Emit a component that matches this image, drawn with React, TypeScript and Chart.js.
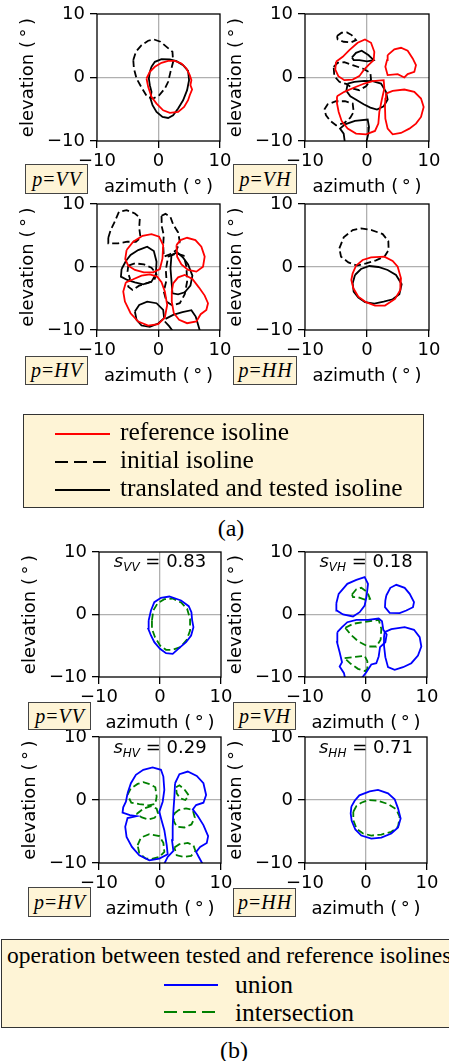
import React, { useEffect, useRef } from 'react';
import { Chart, registerables } from 'chart.js';

Chart.register(...registerables);

type P = [number, number];

// ---------- axes ----------
const axisTicks = [-10, 0, 10];
const axisTickLabels = ['\u221210', '0', '10'];
const xTitle = 'azimuth (\u2009\u00b0\u2009)';
const yTitle = 'elevation (\u2009\u00b0\u2009)';

// ---------- (a) VV ----------
const a1Reference: P[] = [[-1.95,-0.16],[-1.68,-1.47],[-1.14,-3.05],[-0.32,-4.1],[0.76,-5.16],[1.84,-5.58],[3.19,-5.42],[4.16,-4.63],[4.81,-3.58],[5.08,-2.79],[5.46,-1.89],[5.19,-1.21],[5.35,-0.42],[5.08,0.37],[4.54,1.42],[3.73,2.21],[2.65,2.63],[1.57,2.63],[0.49,2.32],[-0.59,1.68],[-1.41,0.89]];
const a1Initial: P[] = [[-4.1,2.74],[-3.68,4.05],[-2.76,5.1],[-1.68,5.79],[-0.76,6.0],[0.32,5.63],[1.41,4.74],[2.27,4.05],[2.38,2.47],[1.95,0.89],[1.57,-0.68],[1.03,-1.74],[0.11,-2.79],[-0.86,-3.32],[-1.84,-3.05],[-2.76,-1.58],[-3.57,-0.16],[-4.0,1.42]];
const a1Tested: P[] = [[-1.14,1.68],[-0.59,2.47],[0.49,2.89],[1.84,2.84],[2.92,2.58],[4.0,1.95],[4.81,1.05],[4.97,-0.42],[4.65,-2.0],[4.0,-3.58],[3.19,-4.89],[2.38,-5.95],[1.57,-6.37],[0.65,-6.21],[-0.32,-5.42],[-0.97,-4.37],[-1.3,-3.32],[-1.14,-2.26],[-1.41,-1.21],[-1.57,-0.16],[-1.41,0.89]];

// ---------- (a) VH ----------
const a2Reference1: P[] = [[-5.0,2.47],[-3.92,3.26],[-2.85,4.32],[-1.51,5.47],[-0.32,6.0],[0.65,5.47],[1.18,4.05],[1.08,2.74],[0.22,1.95],[-0.54,1.16],[-1.24,0.21],[-2.31,-0.32],[-3.66,-0.42],[-4.62,0.21],[-5.11,1.26]];
const a2Reference2: P[] = [[3.33,3.53],[4.41,4.42],[5.48,4.68],[6.56,4.21],[7.37,3.0],[7.9,1.95],[7.63,0.89],[6.56,0.53],[6.02,0.0],[4.95,0.53],[3.33,0.37],[2.96,1.68],[3.23,2.74]];
const a2Reference3: P[] = [[-4.84,-2.95],[-3.66,-2.26],[-2.04,-1.58],[-0.43,-0.95],[0.91,-0.58],[2.69,-0.42],[2.8,-1.74],[2.37,-3.58],[1.99,-5.42],[1.83,-7.26],[1.29,-8.42],[-0.16,-8.95],[-1.77,-8.84],[-3.12,-8.05],[-4.09,-6.84],[-4.57,-5.42],[-4.84,-4.1]];
const a2Reference4: P[] = [[3.06,-2.53],[4.14,-2.11],[6.02,-1.89],[7.63,-2.26],[8.71,-3.32],[9.14,-4.63],[8.71,-6.21],[7.9,-7.26],[6.83,-8.05],[5.48,-8.74],[4.14,-8.95],[3.33,-8.05],[2.96,-6.47],[2.9,-4.63],[2.96,-3.32]];
const a2Initial1: P[] = [[-4.84,6.53],[-4.09,7.05],[-3.23,7.1],[-2.47,6.68],[-1.77,5.89],[-2.58,5.53],[-3.76,5.63],[-4.73,6.0]];
const a2Initial2: P[] = [[-5.38,1.68],[-4.73,2.32],[-3.66,2.42],[-2.31,1.95],[-0.7,1.42],[0.54,0.74],[0.65,-0.32],[-0.16,-1.37],[-1.24,-2.0],[-2.31,-1.74],[-3.23,-1.05],[-4.46,-0.68],[-5.27,0.21]];
const a2Initial3: P[] = [[-6.88,-5.05],[-6.34,-4.21],[-5.0,-3.74],[-3.55,-3.74],[-2.31,-4.1],[-2.15,-5.42],[-2.69,-6.32],[-3.66,-7.16],[-5.0,-7.53],[-5.91,-6.84],[-6.61,-5.95]];
const a2Tested1: P[] = [[-2.42,3.16],[-1.77,3.89],[-0.86,4.21],[0.22,3.53],[1.08,2.74],[0.0,2.53],[-1.24,2.74],[-2.15,2.74]];
const a2Tested2: P[] = [[-3.12,-0.95],[-2.04,-0.68],[-0.43,-0.53],[0.91,-0.58],[2.26,-0.95],[3.06,-2.26],[3.33,-3.47],[2.69,-4.53],[1.61,-5.05],[0.54,-4.74],[-0.54,-4.21],[-1.61,-3.58],[-2.69,-2.95],[-3.33,-2.11]];
const a2Tested3: P[] = [[-3.55,-10.4],[-3.76,-8.84],[-4.35,-8.05],[-3.55,-7.37],[-1.94,-6.84],[0.11,-6.63],[0.32,-7.79],[0.22,-8.84],[-0.16,-10.4]];

// ---------- (a) HV ----------
const a3Reference1: P[] = [[-5.19,2.69],[-4.11,4.01],[-2.59,4.96],[-1.14,5.22],[0.11,4.8],[0.76,3.48],[0.65,1.37],[0.22,-0.32],[-0.86,-0.84],[-2.38,-0.84],[-3.84,-0.47],[-4.92,0.21],[-5.41,1.27]];
const a3Reference2: P[] = [[2.92,3.48],[3.57,4.27],[4.65,4.64],[6.0,4.27],[6.97,3.22],[7.51,1.64],[7.24,0.05],[6.16,-0.74],[4.81,-0.47],[3.73,0.42],[3.03,1.64]];
const a3Reference3: P[] = [[-5.3,-2.43],[-4.11,-1.95],[-2.76,-1.37],[-1.41,-1.16],[-0.22,-1.53],[0.49,-2.43],[1.03,-3.9],[1.41,-6.02],[1.03,-8.02],[-0.05,-9.08],[-1.68,-9.29],[-3.3,-8.65],[-4.54,-7.34],[-5.46,-5.49],[-5.73,-3.9]];
const a3Reference4: P[] = [[2.38,-2.59],[3.19,-1.64],[4.27,-1.27],[5.51,-1.9],[6.59,-3.27],[7.51,-4.54],[8.05,-5.75],[7.78,-6.81],[6.86,-7.49],[6.16,-8.65],[4.65,-8.92],[3.35,-8.39],[2.49,-7.34],[2.16,-5.49],[2.16,-3.9]];
const a3Initial1: P[] = [[-8.16,4.64],[-7.78,5.86],[-7.08,7.28],[-6.43,8.76],[-5.19,9.02],[-3.84,8.5],[-3.03,7.81],[-3.14,6.23],[-2.92,4.64],[-3.68,4.01],[-5.08,4.01],[-6.54,3.75],[-8.16,3.75]];
const a3Initial2: P[] = [[0.49,8.13],[1.14,8.44],[1.95,7.92],[2.38,6.75],[3.19,5.49],[3.46,4.01],[2.92,2.69],[1.84,2.0],[0.86,1.64],[0.76,3.48],[0.86,5.07],[0.54,6.39]];
const a3Initial3: P[] = [[-4.92,0.21],[-3.84,0.58],[-2.38,0.42],[-1.14,-0.11],[-0.32,-1.16],[-0.76,-2.22],[-1.95,-2.59],[-3.14,-2.96],[-4.22,-3.64],[-4.92,-3.11],[-4.65,-1.79],[-5.03,-0.74]];
const a3Initial4: P[] = [[1.57,1.64],[2.92,2.16],[4.11,1.79],[4.54,0.05],[4.65,-2.32],[4.27,-4.33],[3.46,-5.75],[2.27,-6.12],[1.3,-5.49],[0.86,-3.9],[1.3,-2.06],[1.19,-0.47]];
const a3Tested1: P[] = [[-6.0,-0.32],[-5.3,0.95],[-4.54,1.9],[-3.3,2.69],[-1.84,3.22],[-0.76,2.53],[-0.32,0.84],[-0.43,-1.16],[-1.14,-2.32],[-2.49,-2.74],[-3.84,-2.43],[-5.08,-2.06],[-6.11,-1.53]];
const a3Tested2: P[] = [[-3.84,-7.07],[-3.14,-6.02],[-1.84,-5.49],[-0.32,-5.75],[0.76,-6.81],[0.92,-8.13],[-0.05,-8.97],[-1.41,-9.5],[-2.76,-9.29],[-3.57,-8.39]];
const a3Tested3: P[] = [[2.11,1.9],[3.03,2.32],[4.0,1.48],[4.81,0.42],[5.51,-1.37],[5.19,-2.96],[4.27,-4.01],[3.19,-4.33],[2.27,-4.17],[2.11,-2.22],[1.95,-0.21]];
const a3Tested4: P[] = [[1.14,-8.23],[2.38,-7.6],[3.89,-7.18],[5.35,-6.86],[6.05,-7.86],[6.81,-10.4]];
const a3Tested5: P[] = [[1.03,-8.65],[1.73,-9.39],[2.49,-10.4]];

// ---------- (a) HH ----------
const a4Reference: P[] = [[-2.31,-1.0],[-1.77,0.21],[-0.7,1.11],[0.65,1.53],[2.8,1.64],[4.14,0.95],[4.95,0.05],[5.48,-1.79],[5.38,-3.64],[4.52,-5.07],[2.9,-6.12],[1.29,-6.12],[-0.16,-5.59],[-1.4,-4.7],[-2.2,-3.38],[-2.53,-2.06]];
const a4Initial: P[] = [[-4.46,2.96],[-3.76,4.7],[-2.31,5.86],[-0.97,6.12],[0.75,5.86],[2.53,5.22],[3.44,4.12],[3.49,2.69],[2.8,1.64],[1.45,1.06],[-0.16,0.58],[-1.61,0.21],[-3.01,0.74],[-4.19,1.64]];
const a4Tested: P[] = [[-1.94,-1.27],[-0.97,-0.32],[0.38,0.16],[1.83,0.0],[3.33,-0.47],[4.68,-1.27],[5.59,-2.74],[5.22,-4.33],[4.14,-5.12],[2.69,-5.49],[1.18,-5.8],[-0.32,-5.59],[-1.4,-4.85],[-2.15,-3.9],[-2.31,-2.59]];

// ---------- (b) VV ----------
const b1Union: P[] = [[-1.86,-0.96],[-1.48,0.64],[-0.93,1.97],[0.16,2.67],[1.53,2.88],[3.45,2.24],[4.71,1.33],[5.15,0.37],[5.26,-0.85],[5.48,-2.03],[5.1,-3.36],[4.27,-4.43],[3.18,-5.33],[2.08,-6.29],[0.99,-6.19],[0.0,-5.49],[-0.93,-4.43],[-1.48,-3.36],[-1.92,-2.29]];
const b1Intersection: P[] = [[-1.32,-0.96],[-1.1,0.64],[-0.38,1.81],[0.71,2.45],[2.08,2.56],[3.45,1.92],[4.44,0.91],[4.93,-0.69],[4.93,-2.56],[4.38,-4.05],[3.34,-5.23],[2.08,-5.65],[0.99,-5.65],[0.0,-4.96],[-0.82,-3.63],[-1.32,-2.29]];
const b1Score = '0.83';

// ---------- (b) VH ----------
const b2Union1: P[] = [[-4.86,1.81],[-4.48,3.31],[-3.06,4.91],[-1.58,5.55],[-0.22,5.97],[0.33,4.91],[0.11,3.04],[-0.22,1.44],[-1.04,0.37],[-2.13,-0.32],[-3.77,0.0],[-4.81,0.64]];
const b2Union2: P[] = [[3.33,3.04],[3.99,4.27],[4.97,4.75],[6.34,4.27],[7.16,3.31],[7.87,1.97],[7.7,1.17],[6.61,0.64],[5.52,0.21],[3.88,0.27],[3.11,1.17],[3.17,2.24]];
const b2Union3: P[] = [[-4.7,-2.83],[-3.93,-2.03],[-3.06,-1.23],[-1.58,-0.85],[0.33,-0.85],[2.08,-0.64],[2.62,-1.07],[2.84,-2.45],[3.39,-3.2],[3.17,-4.43],[2.3,-5.23],[2.08,-6.72],[1.69,-7.79],[0.87,-8.0],[0.05,-9.23],[-0.87,-10.4],[-3.39,-10.4],[-3.61,-9.39],[-4.32,-8.32],[-3.93,-7.63],[-4.32,-6.03],[-4.75,-4.43]];
const b2Union4: P[] = [[3.06,-2.83],[4.15,-2.35],[6.34,-2.03],[7.87,-2.45],[8.8,-3.63],[9.07,-5.12],[8.52,-6.56],[7.43,-7.79],[6.07,-8.43],[4.7,-8.85],[3.61,-8.43],[3.17,-6.83],[2.95,-4.96],[2.95,-3.63]];
const b2Intersection1: P[] = [[-2.3,3.2],[-1.58,4.05],[-0.77,4.27],[0.22,3.57],[0.66,2.51],[-0.22,2.4],[-1.31,2.77],[-2.13,2.77]];
const b2Intersection2: P[] = [[-3.39,-2.13],[-2.13,-1.49],[-0.22,-1.17],[2.08,-0.85],[2.51,-2.29],[2.4,-4.05],[1.69,-5.12],[0.33,-5.12],[-1.31,-4.27],[-2.51,-3.2]];
const b2Intersection3: P[] = [[-3.5,-6.99],[-2.13,-6.83],[-0.22,-6.61],[0.22,-7.47],[0.22,-8.69],[-0.11,-9.07],[-1.31,-8.69],[-2.51,-7.89]];
const b2Score = '0.18';

// ---------- (b) HV ----------
const b3Union1: P[] = [[-5.32,1.06],[-5.59,-0.27],[-6.03,-1.17],[-6.14,-2.02],[-4.93,-2.39],[-3.84,-2.55],[-5.32,-2.87],[-5.7,-4.26],[-5.48,-5.85],[-4.6,-7.45],[-3.4,-8.78],[-1.75,-9.57],[-0.11,-9.31],[1.26,-8.62],[1.1,-7.18],[0.71,-4.79],[0.22,-3.09],[-0.11,-1.86],[0.44,-0.27],[0.71,1.6],[0.55,3.72],[0.16,4.79],[-1.21,5.16],[-2.74,4.79],[-3.95,3.99],[-4.77,2.66]];
const b3Union2: P[] = [[2.47,2.66],[3.18,4.1],[4.55,4.52],[6.03,3.83],[7.12,2.66],[7.56,0.8],[7.12,-0.43],[5.92,-0.8],[5.37,-1.49],[6.19,-2.55],[7.12,-3.99],[7.89,-5.74],[7.67,-6.81],[6.58,-7.45],[5.92,-8.24],[6.36,-9.04],[7.12,-10.4],[0.55,-10.4],[1.26,-9.04],[2.19,-8.09],[1.97,-6.38],[2.08,-4.26],[2.19,-1.86],[2.36,0.53]];
const b3Intersection1: P[] = [[-5.32,0.8],[-4.77,1.86],[-3.67,2.55],[-2.74,2.82],[-1.64,2.5],[-0.77,2.02],[-0.55,0.53],[-0.77,-0.64],[-1.86,-0.85],[-3.4,-0.64],[-4.71,-0.43]];
const b3Intersection2: P[] = [[-3.84,-2.23],[-2.74,-1.38],[-1.48,-0.96],[-0.55,-1.38],[-0.33,-2.13],[-0.88,-2.82],[-1.86,-3.09],[-2.96,-2.77]];
const b3Intersection3: P[] = [[-3.67,-7.18],[-3.12,-5.96],[-1.75,-5.43],[-0.11,-5.74],[0.55,-6.81],[0.71,-8.24],[-0.11,-9.04],[-1.32,-9.36],[-2.41,-9.26],[-3.4,-8.4]];
const b3Intersection4: P[] = [[2.63,2.02],[3.18,2.34],[4.0,1.7],[4.71,0.74],[4.16,0.0],[3.29,0.27],[2.74,1.06]];
const b3Intersection5: P[] = [[2.36,-2.13],[3.07,-1.6],[4.27,-1.33],[5.37,-1.6],[5.7,-2.77],[5.15,-3.88],[4.0,-4.36],[2.74,-4.26],[2.25,-3.3]];
const b3Intersection6: P[] = [[2.36,-7.55],[3.18,-7.02],[4.55,-6.81],[5.48,-7.18],[5.81,-8.09],[5.1,-8.88],[4.0,-9.04],[2.74,-8.78]];
const b3Score = '0.29';

// ---------- (b) HH ----------
const b4Union: P[] = [[-2.4,-1.06],[-1.86,-0.11],[-1.09,0.74],[0.6,1.38],[1.97,1.6],[3.61,1.06],[4.7,0.11],[5.25,-1.33],[5.68,-2.93],[5.25,-4.36],[4.15,-5.32],[2.51,-5.96],[0.87,-6.12],[-0.77,-5.64],[-1.75,-4.68],[-2.35,-3.3],[-2.51,-2.13]];
const b4Intersection: P[] = [[-2.08,-1.86],[-1.58,-0.96],[-0.77,-0.43],[0.44,0.0],[1.97,-0.11],[3.61,-0.64],[4.97,-1.49],[5.52,-2.66],[5.25,-4.26],[4.15,-5.05],[2.51,-5.48],[0.87,-5.64],[-0.49,-5.32],[-1.53,-4.57],[-2.08,-3.19]];
const b4Score = '0.71';

// ---------- styles ----------
const RED = '#ff0000';
const BLACK = '#000000';
const BLUE = '#0000ff';
const GREEN = '#008000';
const CREAM = '#fef4d6';
const SANS = '"DejaVu Sans", sans-serif';
const SERIF = '"Liberation Serif", "DejaVu Serif", serif';

type Curve = { pts: P[]; color: string; dashed?: boolean; open?: boolean };

const sol = (pts: P[], color: string): Curve => ({ pts, color });
const dsh = (pts: P[], color: string): Curve => ({ pts, color, dashed: true });
const opn = (pts: P[], color: string): Curve => ({ pts, color, open: true });

const framePlugin = {
  id: 'frame',
  afterDatasetsDraw(chart: any) {
    const { ctx, chartArea: a } = chart;
    ctx.save();
    ctx.strokeStyle = '#000';
    ctx.lineWidth = 1.3;
    ctx.strokeRect(a.left, a.top, a.right - a.left, a.bottom - a.top);
    ctx.restore();
  },
};

const YW = 80;
const XH = 60;
const PT = 16;
const PR = 16;

function Panel(props: { left: number; top: number; w: number; h: number; curves: Curve[] }) {
  const { left, top, w, h, curves } = props;
  const ref = useRef<HTMLCanvasElement>(null);
  useEffect(() => {
    const canvas = ref.current;
    if (!canvas) return;
    const datasets = curves.map((c) => {
      const pts = c.open ? c.pts : [...c.pts, c.pts[0]];
      return {
        data: pts.map(([x, y]) => ({ x, y })),
        borderColor: c.color,
        backgroundColor: c.color,
        borderWidth: 1.8,
        borderDash: c.dashed ? [7, 3.5] : [],
        pointRadius: 0,
        fill: false,
        tension: 0,
        clip: 0,
        showLine: true,
      };
    });
    const font = { family: SANS, size: 18, lineHeight: 1.2 };
    const axis = (isX: boolean) => ({
      type: 'linear' as const,
      min: -10,
      max: 10,
      afterBuildTicks: (s: any) => {
        s.ticks = axisTicks.map((v) => ({ value: v }));
      },
      ticks: {
        callback: (_v: any, i: number) => axisTickLabels[i],
        font,
        color: '#000',
        padding: isX ? 3 : 5,
        autoSkip: false,
        maxRotation: 0,
      },
      grid: {
        color: (c: any) => (c.tick && c.tick.value === 0 ? '#b0b0b0' : 'rgba(0,0,0,0)'),
        lineWidth: 1.3,
        tickColor: '#000',
        tickLength: 7,
        tickWidth: 1.3,
        drawTicks: true,
      },
      border: { display: false },
      title: {
        display: true,
        text: isX ? xTitle : yTitle,
        font,
        color: '#000',
        padding: isX ? { top: 0, bottom: 3 } : { top: 1, bottom: 0 },
      },
    });
    const chart = new Chart(canvas, {
      type: 'line',
      data: { datasets: datasets as any },
      options: {
        animation: false,
        responsive: false,
        devicePixelRatio: 1,
        events: [],
        layout: { padding: { top: PT, right: PR, left: 0, bottom: 0 } },
        plugins: { legend: { display: false }, tooltip: { enabled: false } },
        scales: {
          x: { ...axis(true), afterFit: (s: any) => { s.height = XH; } },
          y: { ...axis(false), afterFit: (s: any) => { s.width = YW; } },
        } as any,
      },
      plugins: [framePlugin],
    });
    return () => chart.destroy();
  }, []);
  const cw = YW + w + PR;
  const ch = PT + h + XH;
  return (
    <canvas
      ref={ref}
      width={cw}
      height={ch}
      style={{ position: 'absolute', left: left - YW, top: top - PT, width: cw, height: ch }}
    />
  );
}

function PBox(props: { left: number; top: number; w: number; h: number; a: string; b: string }) {
  const { left, top, w, h, a, b } = props;
  return (
    <div
      style={{
        position: 'absolute', left, top, width: w, height: h, boxSizing: 'border-box',
        background: CREAM, border: '1px solid #444', display: 'flex', alignItems: 'center',
        justifyContent: 'center', fontFamily: SERIF, fontSize: 20, color: '#000', whiteSpace: 'nowrap',
      }}
    >
      <i>p</i>
      <span style={{ margin: '0 1px' }}>=</span>
      <i style={{ letterSpacing: 1 }}>{a}</i>
      <i>{b}</i>
    </div>
  );
}

function Score(props: { cx: number; top: number; sub: string; value: string }) {
  const { cx, top, sub, value } = props;
  return (
    <div
      style={{
        position: 'absolute', left: cx, top, transform: 'translateX(-50%)', fontFamily: SANS,
        fontSize: 18, lineHeight: '18px', whiteSpace: 'nowrap', color: '#000',
      }}
    >
      <i>s</i>
      <i style={{ fontSize: 12, position: 'relative', top: 4 }}>{sub}</i>
      {' = ' + value}
    </div>
  );
}

function Txt(props: { x: number; baseline: number; size: number; children: any; center?: boolean; family?: string }) {
  const { x, baseline, size, children, center } = props;
  return (
    <div
      style={{
        position: 'absolute', left: x, top: baseline - size * 0.8375, fontFamily: props.family || SERIF,
        fontSize: size, lineHeight: `${size}px`, whiteSpace: 'nowrap', color: '#000',
        transform: center ? 'translateX(-50%)' : undefined,
      }}
    >
      {children}
    </div>
  );
}

function LegendLine(props: { x1: number; x2: number; y: number; color: string; dashed?: boolean }) {
  const { x1, x2, y, color, dashed } = props;
  return (
    <svg style={{ position: 'absolute', left: x1, top: y - 3, overflow: 'visible' }} width={x2 - x1} height={6}>
      <line x1={0} y1={3} x2={x2 - x1} y2={3} stroke={color} strokeWidth={2}
        strokeDasharray={dashed ? '13 6' : undefined} />
    </svg>
  );
}

export default function App() {
  return (
    <div style={{ position: 'absolute', left: 0, top: 0, width: 449, height: 1061, overflow: 'hidden', background: '#fff' }}>
      {/* (a) */}
      <Panel left={97} top={14} w={123} h={127}
        curves={[sol(a1Reference, RED), dsh(a1Initial, BLACK), sol(a1Tested, BLACK)]} />
      <Panel left={305} top={14} w={124} h={127}
        curves={[sol(a2Reference1, RED), sol(a2Reference2, RED), sol(a2Reference3, RED), sol(a2Reference4, RED),
          dsh(a2Initial1, BLACK), dsh(a2Initial2, BLACK), dsh(a2Initial3, BLACK),
          sol(a2Tested1, BLACK), sol(a2Tested2, BLACK), opn(a2Tested3, BLACK)]} />
      <Panel left={97} top={204} w={123} h={126}
        curves={[sol(a3Reference1, RED), sol(a3Reference2, RED), sol(a3Reference3, RED), sol(a3Reference4, RED),
          dsh(a3Initial1, BLACK), dsh(a3Initial2, BLACK), dsh(a3Initial3, BLACK), dsh(a3Initial4, BLACK),
          sol(a3Tested1, BLACK), sol(a3Tested2, BLACK), sol(a3Tested3, BLACK), opn(a3Tested4, BLACK), opn(a3Tested5, BLACK)]} />
      <Panel left={305} top={204} w={124} h={126}
        curves={[sol(a4Reference, RED), dsh(a4Initial, BLACK), sol(a4Tested, BLACK)]} />

      <PBox left={25} top={164} w={63} h={30} a="V" b="V" />
      <PBox left={233} top={164} w={64} h={30} a="V" b="H" />
      <PBox left={25} top={356} w={63} h={29} a="H" b="V" />
      <PBox left={233} top={356} w={64} h={29} a="H" b="H" />

      <div style={{ position: 'absolute', left: 23, top: 414, width: 401, height: 94, boxSizing: 'border-box', background: CREAM, border: '1px solid #333' }} />
      <LegendLine x1={55} x2={110} y={434} color={RED} />
      <LegendLine x1={55} x2={110} y={462} color={BLACK} dashed />
      <LegendLine x1={55} x2={110} y={490} color={BLACK} />
      <Txt x={120} baseline={440} size={25.5}>reference isoline</Txt>
      <Txt x={120} baseline={468} size={25.5}>initial isoline</Txt>
      <Txt x={120} baseline={496} size={25.5}>translated and tested isoline</Txt>
      <Txt x={231} baseline={536} size={24} center>(a)</Txt>

      {/* (b) */}
      <Panel left={99} top={552} w={122} h={125}
        curves={[sol(b1Union, BLUE), dsh(b1Intersection, GREEN)]} />
      <Panel left={305} top={552} w={122} h={125}
        curves={[sol(b2Union1, BLUE), sol(b2Union2, BLUE), sol(b2Union3, BLUE), sol(b2Union4, BLUE),
          dsh(b2Intersection1, GREEN), dsh(b2Intersection2, GREEN), dsh(b2Intersection3, GREEN)]} />
      <Panel left={99} top={737} w={122} h={126}
        curves={[sol(b3Union1, BLUE), sol(b3Union2, BLUE),
          dsh(b3Intersection1, GREEN), dsh(b3Intersection2, GREEN), dsh(b3Intersection3, GREEN),
          dsh(b3Intersection4, GREEN), dsh(b3Intersection5, GREEN), dsh(b3Intersection6, GREEN)]} />
      <Panel left={305} top={737} w={122} h={126}
        curves={[sol(b4Union, BLUE), dsh(b4Intersection, GREEN)]} />

      <Score cx={160} top={552} sub="VV" value={b1Score} />
      <Score cx={366} top={552} sub="VH" value={b2Score} />
      <Score cx={160} top={738} sub="HV" value={b3Score} />
      <Score cx={366} top={738} sub="HH" value={b4Score} />

      <PBox left={28} top={702} w={63} h={28} a="V" b="V" />
      <PBox left={233} top={702} w={63} h={28} a="V" b="H" />
      <PBox left={28} top={887} w={63} h={30} a="H" b="V" />
      <PBox left={233} top={888} w={63} h={29} a="H" b="H" />

      <div style={{ position: 'absolute', left: 1, top: 939, width: 470, height: 89, boxSizing: 'border-box', background: CREAM, border: '1px solid #333' }} />
      <Txt x={7} baseline={964} size={23.5}>operation between tested and reference isolines</Txt>
      <LegendLine x1={164} x2={218} y={985} color={BLUE} />
      <LegendLine x1={164} x2={218} y={1012} color={GREEN} dashed />
      <Txt x={235} baseline={993} size={25.5}>union</Txt>
      <Txt x={235} baseline={1021} size={25.5}>intersection</Txt>
      <Txt x={234} baseline={1058} size={24} center>(b)</Txt>
    </div>
  );
}
